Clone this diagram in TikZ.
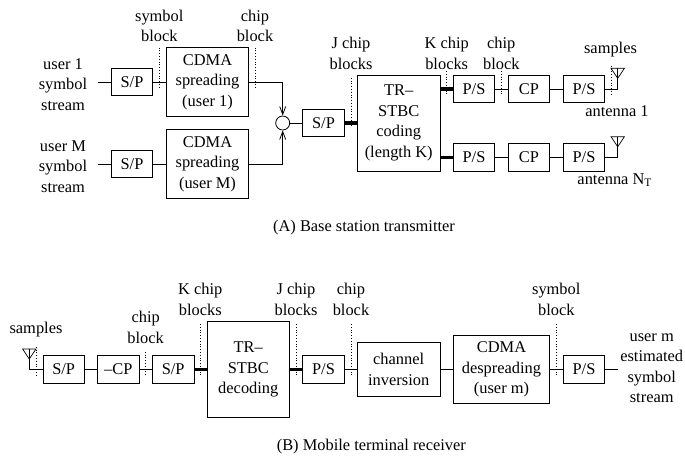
\documentclass[tikz,border=0pt]{standalone}
\usepackage{fontspec}
\setmainfont{Liberation Serif}
\usetikzlibrary{arrows.meta}
\tikzset{
  blk/.style={draw, line width=0.8pt, inner sep=0pt, align=center, minimum width=#1},
  blk/.default=41.5pt,
  lbl/.style={inner sep=0pt, align=center},
  dotmark/.style={dotted, line width=0.8pt},
  wire/.style={line width=0.8pt},
  bus/.style={line width=3.4pt},
  aerial/.style={line width=0.7pt, line join=miter}
}

\begin{document}
\begin{tikzpicture}[x=1pt, y=-1pt, >={Straight Barb[length=8pt, width=6pt]}, font=\fontsize{16.4}{20.5}\selectfont]
      \useasboundingbox (0,0) rectangle (685,456);

      \node[lbl] (user1) at (63,84.5) {user 1\\symbol\\stream};
      \node[lbl] (userM) at (63,166.5) {user M\\symbol\\stream};
      \coordinate (in1) at (98,82);
      \coordinate (inM) at (98,164);
      \node[blk, minimum height=27.5pt] (sp1) at (132,82) {S/P};
      \node[blk, minimum height=27.5pt] (spM) at (132,164) {S/P};
      \node[blk=82pt, minimum height=69pt] (cdma1) at (207.5,82) {CDMA\\spreading\\(user 1)};
      \node[blk=82pt, minimum height=69pt] (cdmaM) at (207.5,164) {CDMA\\spreading\\(user M)};
      \node[draw, wire, circle, inner sep=0pt, minimum size=14pt] (sum) at (282.7,123) {};
      \node[blk, minimum height=27.5pt] (sp2) at (323.5,123) {S/P};
      \node[blk=82.5pt, minimum height=96pt] (stbc) at (398.7,123) {TR--\\STBC\\coding\\(length K)};

      \node[blk, minimum height=27.5pt] (ps1) at (474,89) {P/S};
      \node[blk, minimum height=27.5pt] (cp1) at (529,89) {CP};
      \node[blk, minimum height=27.5pt] (ps2) at (584,89) {P/S};
      \node[blk, minimum height=27.5pt] (ps3) at (474,157.5) {P/S};
      \node[blk, minimum height=27.5pt] (cp2) at (529,157.5) {CP};
      \node[blk, minimum height=27.5pt] (ps4) at (584,157.5) {P/S};
      \coordinate (ant1) at (617.7,68.3);
      \coordinate (antN) at (617.7,136.7);

      \draw[wire] (in1) -- (sp1);
      \draw[wire] (inM) -- (spM);
      \draw[wire] (sp1) -- (cdma1);
      \draw[wire] (spM) -- (cdmaM);
      \draw[wire, ->] (cdma1.east) -| (sum);
      \draw[wire, ->] (cdmaM.east) -| (sum);
      \draw[wire] (sum) -- (sp2);
      \draw[bus] (sp2) -- (stbc);
      \draw[bus] (stbc.east |- ps1) -- (ps1);
      \draw[bus] (stbc.east |- ps3) -- (ps3);
      \draw[wire] (ps1) -- (cp1);
      \draw[wire] (cp1) -- (ps2);
      \draw[wire] (ps3) -- (cp2);
      \draw[wire] (cp2) -- (ps4);
      \draw[wire] (ps2) -| (ant1);
      \draw[wire] (ps4) -| (antN);
      \draw[aerial] (ant1) -- +(-6.7,0) -- +(0,10) -- +(6.7,0) -- cycle;
      \draw[aerial] (antN) -- +(-6.7,0) -- +(0,10) -- +(6.7,0) -- cycle;

      \draw[dotmark] (159.5,47.5) -- (159.5,88);
      \draw[dotmark] (255.5,47.5) -- (255.5,88);
      \draw[dotmark] (351,77.7) -- (351,128);
      \draw[dotmark] (446.7,71) -- (446.7,95);
      \draw[dotmark] (501.7,71) -- (501.7,95);
      \draw[dotmark] (611,65.7) -- (611,95);

      \node[lbl] (symblk1) at (159.3,26) {symbol\\block};
      \node[lbl] (chipblk1) at (255,26) {chip\\block};
      \node[lbl] (jchip1) at (351,53.5) {J chip\\blocks};
      \node[lbl] (kchip1) at (446.7,53.5) {K chip\\blocks};
      \node[lbl] (chipblk2) at (501.3,53.5) {chip\\block};
      \node[lbl] (samples1) at (610.5,50) {samples};
      \node[lbl] (antlbl1) at (617,111) {antenna 1};
      \node[lbl] (antlblN) at (614.7,180) {antenna N\textsubscript{T}};
      \node[lbl] (captiona) at (364,227.5) {(A) Base station transmitter};

      \coordinate (antr) at (29.3,349);
      \node[blk, minimum height=27.5pt] (spr1) at (63.7,369.5) {S/P};
      \node[blk, minimum height=27.5pt] (cpr) at (118.3,369.5) {--CP};
      \node[blk, minimum height=27.5pt] (spr2) at (173.2,369.5) {S/P};
      \node[blk=82pt, minimum height=95.6pt] (stbcr) at (248.3,369.5) {TR--\\STBC\\decoding};
      \node[blk, minimum height=27.5pt] (psr1) at (323.5,369.5) {P/S};
      \node[blk=82.7pt, minimum height=54.4pt] (inv) at (398.7,369.5) {channel\\inversion};
      \node[blk=96.4pt, minimum height=68.4pt] (despread) at (501.5,369.5) {CDMA\\despreading\\(user m)};
      \node[blk, minimum height=27.5pt] (psr2) at (584,369.5) {P/S};
      \coordinate (outr) at (617.7,369.5);

      \draw[wire] (antr) |- (spr1);
      \draw[aerial] (antr) -- +(-6.7,0) -- +(0,10) -- +(6.7,0) -- cycle;
      \draw[wire] (spr1) -- (cpr);
      \draw[wire] (cpr) -- (spr2);
      \draw[bus] (spr2) -- (stbcr);
      \draw[bus] (stbcr) -- (psr1);
      \draw[wire] (psr1) -- (inv);
      \draw[wire] (inv) -- (despread);
      \draw[wire] (despread) -- (psr2);
      \draw[wire] (psr2) -- (outr);

      \draw[dotmark] (36,346.7) -- (36,375);
      \draw[dotmark] (145.7,351.7) -- (145.7,375);
      \draw[dotmark] (200.3,324) -- (200.3,375);
      \draw[dotmark] (296,324) -- (296,375);
      \draw[dotmark] (351,324) -- (351,375);
      \draw[dotmark] (556.3,324) -- (556.3,375);

      \node[lbl] (samples2) at (36,330) {samples};
      \node[lbl] (chipblk3) at (145.7,327.5) {chip\\block};
      \node[lbl] (kchip2) at (200.3,299.5) {K chip\\blocks};
      \node[lbl] (jchip2) at (296,299.5) {J chip\\blocks};
      \node[lbl] (chipblk4) at (351,299.5) {chip\\block};
      \node[lbl] (symblk2) at (556.3,299.5) {symbol\\block};
      \node[lbl] (userm) at (651.7,368) {user m\\estimated\\symbol\\stream};
      \node[lbl] (captionb) at (371.3,446.5) {(B) Mobile terminal receiver};
    \end{tikzpicture}
\end{document}
